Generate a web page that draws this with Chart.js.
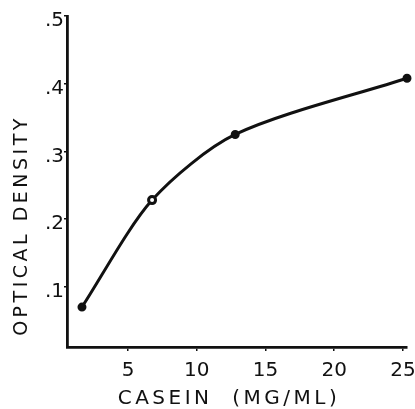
<!DOCTYPE html>
<html>
<head>
<meta charset="utf-8">
<script src="https://cdn.jsdelivr.net/npm/chart.js@4.4.1/dist/chart.umd.min.js"></script>
<style>
  html, body { margin: 0; padding: 0; background: #fff; }
  #wrap { width: 415px; height: 409px; }
</style>
</head>
<body>
<div id="wrap"><canvas id="chart"></canvas></div>
<script>
// values
const casein = [1.65, 6.75, 12.8, 25.3];
const opticalDensity = [0.070, 0.228, 0.325, 0.408];
const xTicks = [5, 10, 15, 20, 25];
const yTicks = [0.1, 0.2, 0.3, 0.4, 0.5];
const yTickLabels = [".1", ".2", ".3", ".4", ".5"];

const ink = "#111";

// hand lettered axis titles: wide spacing, not quite centred
const titleShift = { x: [-8, 0], y: [0, 44] };
const origDrawTitle = Chart.Scale.prototype.drawTitle;
Chart.Scale.prototype.drawTitle = function () {
    const ctx = this.ctx;
    const shift = titleShift[this.id] || [0, 0];
    ctx.save();
    ctx.letterSpacing = "3.5px";
    ctx.translate(shift[0], shift[1]);
    origDrawTitle.call(this);
    ctx.restore();
};

new Chart(document.getElementById("chart"), {
    type: "line",
    data: {
        datasets: [
            {
                data: casein.map((x, i) => ({ x: x, y: opticalDensity[i] })),
                borderColor: ink,
                borderWidth: 3,
                tension: 0.28,
                pointRadius: 3.5,
                pointBorderWidth: [2, 3, 2, 2],
                pointBorderColor: ink,
                pointBackgroundColor: [ink, "#fff", ink, ink],
                clip: false,
            },
        ],
    },
    options: {
        responsive: true,
        maintainAspectRatio: false,
        animation: false,
        layout: {
            padding: { top: 16, right: 0, left: 0, bottom: 0 },
        },
        plugins: {
            legend: { display: false },
            tooltip: { enabled: false },
        },
        scales: {
            x: {
                type: "linear",
                min: 0.56,
                max: 25.3,
                afterBuildTicks: (scale) => {
                    scale.ticks = xTicks.map((v) => ({ value: v }));
                },
                afterFit: (scale) => {
                    scale.height = 62;
                    scale.paddingLeft = 0;
                    scale.paddingRight = 8;
                },
                border: { display: true, color: ink, width: 2.8 },
                grid: { drawOnChartArea: false, drawTicks: true, tickLength: 4, color: ink, lineWidth: 1.5 },
                ticks: {
                    color: ink,
                    padding: 8,
                    maxRotation: 0,
                    font: { family: "DejaVu Sans", size: 20 },
                },
                title: {
                    display: true,
                    text: "CASEIN  (MG/ML)",
                    color: ink,
                    padding: { top: 0, bottom: 0 },
                    font: { family: "DejaVu Sans", size: 20, lineHeight: 1 },
                },
            },
            y: {
                type: "linear",
                min: 0.011,
                max: 0.5,
                afterBuildTicks: (scale) => {
                    scale.ticks = yTicks.map((v) => ({ value: v }));
                },
                afterFit: (scale) => {
                    scale.width = 67;
                    scale.paddingTop = 0;
                    scale.paddingBottom = 0;
                },
                border: { display: true, color: ink, width: 2.8 },
                grid: { drawOnChartArea: false, drawTicks: true, tickLength: 3, color: ink, lineWidth: 1.5 },
                ticks: {
                    color: ink,
                    padding: 0,
                    labelOffset: 5,
                    font: { family: "DejaVu Sans", size: 20 },
                    callback: (value) => {
                        const i = yTicks.indexOf(value);
                        return i >= 0 ? yTickLabels[i] : "";
                    },
                },
                title: {
                    display: true,
                    text: "OPTICAL DENSITY",
                    color: ink,
                    padding: { top: 11, bottom: 0 },
                    font: { family: "DejaVu Sans", size: 19, lineHeight: 1.2 },
                },
            },
        },
    },
});
</script>
</body>
</html>
